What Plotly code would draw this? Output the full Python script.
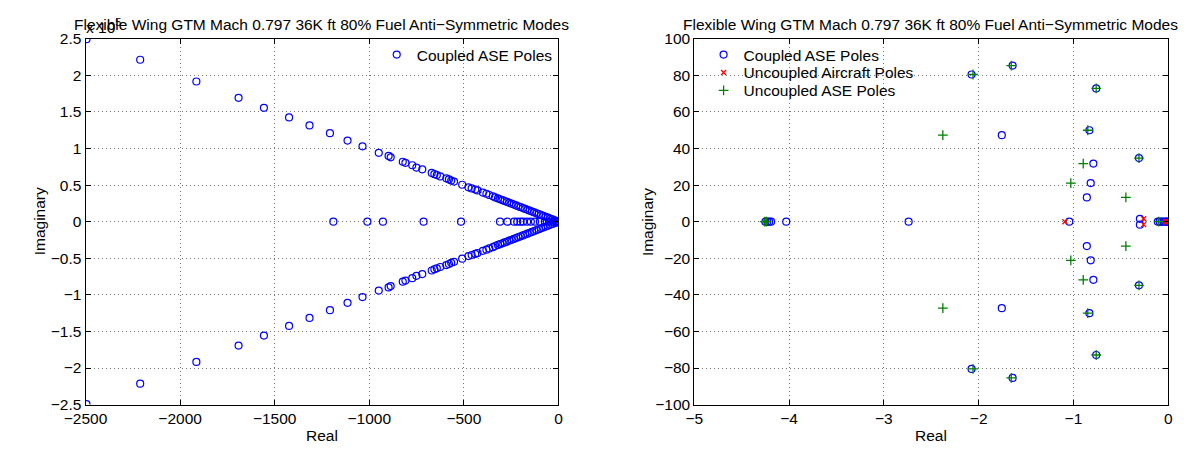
import plotly.graph_objects as go

# ---------------- Left plot data (Coupled ASE poles, full view) ----------------
# upper branch of the complex poles (real part, imaginary part)
left_real_upper = [-2495, -2211, -1914, -1691, -1557, -1424, -1316, -1208, -1115,
                   -1036, -950, -898, -887, -823, -809, -773, -751, -720, -670,
                   -656, -643, -625, -593, -579, -567, -552, -509, -476, -459,
                   -440, -428, -400, -381, -366, -347, -335, -320, -308, -296,
                   -285, -272, -260, -248, -236, -224, -212, -200, -188, -176,
                   -164, -152, -140, -128, -116, -104, -92, -80, -68, -56, -44,
                   -32, -20, -10, -4]
left_imag_upper = [249500, 221400, 191700, 169300, 155700, 142500, 131600, 121000,
                   110900, 103000, 94200, 89900, 88000, 82000, 80500, 77200, 74000,
                   71600, 66700, 65000, 63700, 61900, 59300, 57800, 56200, 54800,
                   50500, 47000, 45500, 44000, 42800, 39800, 38200, 36500, 34800,
                   33200, 31800, 30600, 29500, 28300, 27100, 25800, 24700, 23500,
                   22300, 21100, 19900, 18700, 17500, 16300, 15100, 13900, 12700,
                   11500, 10300, 9100, 7900, 6700, 5500, 4300, 3100, 1900, 900, 300]
# real-axis poles
left_real_axis = [-1190, -1010, -928, -713, -515, -309, -270, -235, -218, -201,
                  -187, -166, -146, -124, -98, -72, -50, -30, -15, -5, 0]

left_yticks = [-250000, -200000, -150000, -100000, -50000, 0,
               50000, 100000, 150000, 200000, 250000]
left_yticktext = ["\u22122.5", "\u22122", "\u22121.5", "\u22121", "\u22120.5", "0",
                  "0.5", "1", "1.5", "2", "2.5"]

# ---------------- Right plot data (zoomed view) ----------------
coupled_real_upper = [-2.075, -1.642, -0.76, -1.756, -0.832, -0.309, -0.79, -0.818, -0.859, -0.299]
coupled_imag_upper = [80.5, 85.4, 72.9, 47.3, 50.0, 34.8, 31.8, 21.1, 13.3, 1.6]
coupled_real_axis = [-4.25, -4.23, -4.21, -4.19, -4.03, -2.739, -1.044,
                     -0.11, -0.09, -0.07, -0.05, -0.03, -0.015, -0.005]

aircraft_real_upper = [-0.26]
aircraft_imag_upper = [1.6]
aircraft_real_axis = [-1.09, -0.03, -0.02, -0.01, -0.003]

ase_real_upper = [-2.06, -1.656, -0.76, -2.378, -0.849, -0.309, -0.897, -1.028, -0.447]
ase_imag_upper = [80.5, 85.4, 72.9, 47.3, 50.0, 34.8, 31.8, 21.1, 13.3]
ase_real_axis = [-4.258, -4.24, -0.1]


def conj(real_upper, imag_upper, real_axis):
    """Complex poles come in conjugate pairs: list upper, mirrored lower, then real ones."""
    xs = real_upper + real_upper + real_axis
    ys = imag_upper + [-v for v in imag_upper] + [0] * len(real_axis)
    return xs, ys


lx, ly = conj(left_real_upper, left_imag_upper, left_real_axis)
cx, cy = conj(coupled_real_upper, coupled_imag_upper, coupled_real_axis)
ax_, ay_ = conj(aircraft_real_upper, aircraft_imag_upper, aircraft_real_axis)
gx, gy = conj(ase_real_upper, ase_imag_upper, ase_real_axis)

TITLE = "Flexible Wing GTM Mach 0.797 36K ft 80% Fuel Anti\u2212Symmetric Modes"
FONT = "Liberation Sans, Arial, Helvetica, sans-serif"
FS = 15.5
W, H = 1184, 453

BLUE = "#0000ff"
RED = "#ff0000"
GREEN = "#008000"

circle = dict(symbol="circle-open", size=7, color=BLUE, line=dict(width=1.2))

fig = go.Figure()
fig.add_trace(go.Scatter(x=lx, y=ly, mode="markers", name="Coupled ASE Poles",
                         marker=circle, xaxis="x", yaxis="y", legend="legend"))
fig.add_trace(go.Scatter(x=cx, y=cy, mode="markers", name="Coupled ASE Poles",
                         marker=circle, xaxis="x2", yaxis="y2", legend="legend2"))
fig.add_trace(go.Scatter(x=ax_, y=ay_, mode="markers", name="Uncoupled Aircraft Poles",
                         marker=dict(symbol="x-thin-open", size=5, color=RED, line=dict(width=1.3)),
                         xaxis="x2", yaxis="y2", legend="legend3"))
fig.add_trace(go.Scatter(x=gx, y=gy, mode="markers", name="Uncoupled ASE Poles",
                         marker=dict(symbol="cross-thin-open", size=7, color=GREEN, line=dict(width=1.3)),
                         xaxis="x2", yaxis="y2", legend="legend4"))

axis_common = dict(showline=True, linecolor="black", linewidth=1, mirror="ticks",
                   ticks="inside", ticklen=5, tickcolor="black", tickwidth=1,
                   showgrid=True, gridcolor="#777777", griddash="1px,3px", gridwidth=1,
                   zeroline=False, tickfont=dict(family=FONT, size=FS, color="black"))

xd1 = [65 / W, 549 / W]
xd2 = [688 / W, 1173 / W]
yd = [(H - 411) / H, (H - 31) / H]


def leg(x_px, top_px):
    return dict(x=x_px / W, y=(H - top_px) / H, xanchor="left", yanchor="top",
                bgcolor="rgba(0,0,0,0)", borderwidth=0,
                font=dict(family=FONT, size=FS, color="black"))


fig.update_layout(
    width=W, height=H, margin=dict(l=0, r=0, t=0, b=0),
    paper_bgcolor="white", plot_bgcolor="white",
    font=dict(family=FONT, size=FS, color="black"),
    xaxis=dict(domain=xd1, range=[-2500, 0], dtick=500, anchor="y", **axis_common),
    yaxis=dict(domain=yd, range=[-250000, 250000], tickvals=left_yticks,
               ticktext=left_yticktext, anchor="x", **axis_common),
    xaxis2=dict(domain=xd2, range=[-5, 0], dtick=1, anchor="y2", **axis_common),
    yaxis2=dict(domain=yd, range=[-100, 100], dtick=20, anchor="x2", **axis_common),
    legend=leg(363, 30.1),
    legend2=leg(697.5, 30.1),
    legend3=leg(697.5, 48.7),
    legend4=leg(697.5, 67.4),
    showlegend=True,
)

annotations = [
    dict(text=TITLE, x=307 / W, y=(H - 16) / H),
    dict(text=TITLE, x=930 / W, y=(H - 16) / H),
    dict(text="x 10<sup>5</sup>", x=63 / W, y=(H - 30) / H, xanchor="left", yanchor="bottom"),
    dict(text="Real", x=307 / W, y=(H - 443) / H),
    dict(text="Real", x=930 / W, y=(H - 443) / H),
    dict(text="Imaginary", x=18 / W, y=(H - 221) / H, textangle=-90),
    dict(text="Imaginary", x=640 / W, y=(H - 221) / H, textangle=-90),
]
for a in annotations:
    a.setdefault("xanchor", "center")
    a.setdefault("yanchor", "middle")
    a.update(xref="paper", yref="paper", showarrow=False,
             font=dict(family=FONT, size=FS, color="black"))
fig.update_layout(annotations=annotations)

fig.write_html("out.html", post_script="document.body.style.margin='0';")
